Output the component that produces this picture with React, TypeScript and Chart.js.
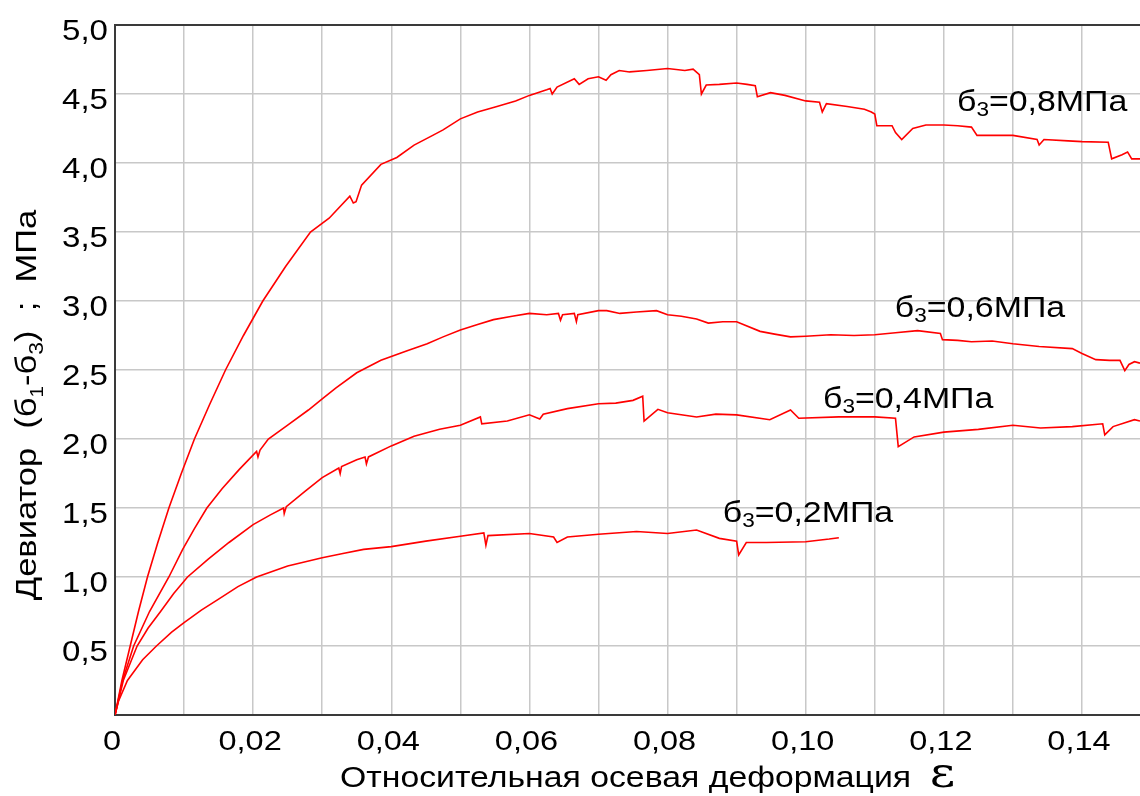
import React, { useEffect, useRef } from "react";
import { Chart, registerables } from "chart.js";

Chart.register(...registerables);

// ---------- data ----------
const STRAIN_08 = [0, 0.001, 0.0022, 0.0034, 0.0047, 0.0062, 0.0078, 0.0096, 0.0115, 0.0137, 0.016, 0.0186, 0.0214, 0.0247, 0.0283, 0.031, 0.034, 0.0345, 0.0349, 0.0357, 0.0385, 0.0408, 0.0433, 0.046, 0.0475, 0.05, 0.0525, 0.0553, 0.058, 0.06, 0.0625, 0.063, 0.0633, 0.064, 0.0665, 0.0672, 0.0685, 0.07, 0.0711, 0.0718, 0.073, 0.0745, 0.077, 0.08, 0.0825, 0.0837, 0.0846, 0.0849, 0.0856, 0.0875, 0.09, 0.0915, 0.0927, 0.093, 0.0949, 0.097, 0.1, 0.102, 0.1024, 0.103, 0.106, 0.1085, 0.1095, 0.11, 0.1103, 0.1125, 0.113, 0.1139, 0.1155, 0.1174, 0.12, 0.122, 0.124, 0.1248, 0.13, 0.1335, 0.1338, 0.1345, 0.138, 0.14, 0.1438, 0.1443, 0.1458, 0.1466, 0.1472, 0.1484];
const DEV_08 = [0, 0.25, 0.5, 0.75, 1.0, 1.25, 1.5, 1.75, 2.0, 2.25, 2.5, 2.75, 3.0, 3.25, 3.5, 3.6, 3.76, 3.71, 3.72, 3.84, 3.99, 4.04, 4.13, 4.2, 4.24, 4.32, 4.37, 4.41, 4.45, 4.49, 4.53, 4.54, 4.5, 4.55, 4.61, 4.57, 4.61, 4.625, 4.6, 4.64, 4.67, 4.66, 4.67, 4.685, 4.67, 4.68, 4.64, 4.5, 4.565, 4.57, 4.58, 4.57, 4.56, 4.48, 4.51, 4.49, 4.45, 4.44, 4.37, 4.43, 4.41, 4.39, 4.37, 4.355, 4.27, 4.27, 4.22, 4.17, 4.25, 4.275, 4.275, 4.27, 4.26, 4.2, 4.2, 4.17, 4.13, 4.17, 4.16, 4.155, 4.15, 4.03, 4.06, 4.08, 4.03, 4.03];

const STRAIN_06 = [0, 0.0011, 0.0027, 0.005, 0.0078, 0.0098, 0.0115, 0.0133, 0.0155, 0.018, 0.0205, 0.0207, 0.021, 0.0222, 0.025, 0.028, 0.03, 0.032, 0.035, 0.0385, 0.0423, 0.0452, 0.0475, 0.05, 0.0525, 0.0548, 0.0575, 0.06, 0.0625, 0.0642, 0.0645, 0.0648, 0.0665, 0.0668, 0.067, 0.07, 0.0712, 0.0731, 0.0755, 0.0784, 0.08, 0.082, 0.0842, 0.0859, 0.088, 0.09, 0.0934, 0.0955, 0.0978, 0.1, 0.1036, 0.107, 0.11, 0.113, 0.1162, 0.1195, 0.1198, 0.122, 0.124, 0.127, 0.13, 0.1338, 0.1386, 0.14, 0.142, 0.144, 0.1455, 0.1462, 0.1468, 0.1476, 0.1484];
const DEV_06 = [0, 0.25, 0.5, 0.75, 1.0, 1.2, 1.35, 1.5, 1.64, 1.78, 1.91, 1.87, 1.92, 2.0, 2.1, 2.21, 2.29, 2.37, 2.48, 2.57, 2.64, 2.69, 2.74, 2.79, 2.83, 2.865, 2.89, 2.91, 2.9, 2.91, 2.86, 2.9, 2.91, 2.85, 2.9, 2.93, 2.93, 2.91, 2.92, 2.93, 2.9, 2.89, 2.87, 2.84, 2.85, 2.85, 2.78, 2.76, 2.74, 2.745, 2.755, 2.75, 2.755, 2.77, 2.785, 2.765, 2.72, 2.715, 2.705, 2.71, 2.69, 2.67, 2.655, 2.62, 2.575, 2.57, 2.57, 2.495, 2.54, 2.56, 2.55];

const STRAIN_04 = [0, 0.0012, 0.0032, 0.0048, 0.0066, 0.0085, 0.0105, 0.0135, 0.0165, 0.02, 0.0225, 0.0244, 0.0245, 0.0248, 0.0275, 0.03, 0.0324, 0.0326, 0.0328, 0.035, 0.0362, 0.0364, 0.0367, 0.04, 0.0433, 0.047, 0.05, 0.0529, 0.0531, 0.0568, 0.06, 0.0615, 0.062, 0.0655, 0.07, 0.0725, 0.075, 0.0764, 0.0766, 0.0786, 0.08, 0.0842, 0.087, 0.09, 0.0948, 0.0978, 0.099, 0.1048, 0.11, 0.113, 0.1134, 0.1157, 0.12, 0.125, 0.13, 0.134, 0.1386, 0.143, 0.1433, 0.1445, 0.1476, 0.1484];
const DEV_04 = [0, 0.25, 0.5, 0.63, 0.75, 0.88, 1.0, 1.13, 1.25, 1.38, 1.45, 1.5, 1.46, 1.51, 1.62, 1.72, 1.79, 1.75, 1.8, 1.85, 1.87, 1.82, 1.87, 1.95, 2.02, 2.07, 2.1, 2.16, 2.11, 2.13, 2.175, 2.145, 2.18, 2.22, 2.255, 2.26, 2.28, 2.31, 2.13, 2.215, 2.19, 2.16, 2.18, 2.175, 2.14, 2.21, 2.15, 2.16, 2.16, 2.15, 1.945, 2.015, 2.05, 2.07, 2.1, 2.08, 2.09, 2.11, 2.03, 2.09, 2.14, 2.13];

const STRAIN_02 = [0, 0.0005, 0.0018, 0.004, 0.006, 0.0082, 0.01, 0.0125, 0.015, 0.0178, 0.0205, 0.025, 0.03, 0.033, 0.036, 0.04, 0.045, 0.05, 0.0534, 0.0537, 0.054, 0.06, 0.0635, 0.064, 0.0655, 0.07, 0.0755, 0.08, 0.0842, 0.0875, 0.09, 0.0903, 0.0914, 0.0943, 0.1, 0.1034, 0.1048];
const DEV_02 = [0, 0.1, 0.25, 0.4, 0.5, 0.6, 0.67, 0.76, 0.84, 0.93, 1.0, 1.08, 1.14, 1.17, 1.2, 1.22, 1.26, 1.295, 1.32, 1.23, 1.3, 1.315, 1.29, 1.25, 1.29, 1.31, 1.33, 1.315, 1.34, 1.28, 1.26, 1.16, 1.25, 1.25, 1.255, 1.275, 1.285];

const X_TICK_VALUES = [0, 0.02, 0.04, 0.06, 0.08, 0.1, 0.12, 0.14];
const X_TICK_LABELS = ["0", "0,02", "0,04", "0,06", "0,08", "0,10", "0,12", "0,14"];
const Y_TICK_VALUES = [0.5, 1, 1.5, 2, 2.5, 3, 3.5, 4, 4.5, 5];
const Y_TICK_LABELS = ["0,5", "1,0", "1,5", "2,0", "2,5", "3,0", "3,5", "4,0", "4,5", "5,0"];

const CURVE_LABELS = ["=0,8МПа", "=0,6МПа", "=0,4МПа", "=0,2МПа"];
// anchor (left, baseline) of each label, in data units
const LABEL_X = [0.1219, 0.1129, 0.1025, 0.088];
const LABEL_Y = [4.378, 2.885, 2.227, 1.401];

const X_TITLE = "Относительная осевая деформация";
const X_TITLE_SYMBOL = "ε";

// ---------- styling ----------
const SANS = '"Liberation Sans", Arial, sans-serif';
const SERIF = '"DejaVu Serif", "Liberation Serif", serif';
const RED = "#ff0000";
const GRID = "#c8c8c8";
const AXIS = "#3a3a3a";
const TEXT = "#000000";
const X_MAX = 0.1484;

type Run = { t: string; size: number; dy?: number; family?: string };

function drawRuns(ctx: CanvasRenderingContext2D, runs: Run[], x: number, y: number, align: "left" | "center" | "right", sx: number) {
  const widths = runs.map((r) => {
    ctx.font = `${r.size}px ${r.family ?? SANS}`;
    return ctx.measureText(r.t).width;
  });
  const total = widths.reduce((a, b) => a + b, 0) * sx;
  const start = align === "left" ? x : align === "center" ? x - total / 2 : x - total;
  ctx.save();
  ctx.translate(start, y);
  ctx.scale(sx, 1);
  ctx.textAlign = "left";
  ctx.textBaseline = "alphabetic";
  let cx = 0;
  runs.forEach((r, i) => {
    ctx.font = `${r.size}px ${r.family ?? SANS}`;
    ctx.fillText(r.t, cx, r.dy ?? 0);
    cx += widths[i];
  });
  ctx.restore();
}

const textPlugin = {
  id: "customText",
  afterDraw(chart: any) {
    const ctx: CanvasRenderingContext2D = chart.ctx;
    const xs = chart.scales.x;
    const ys = chart.scales.y;
    const area = chart.chartArea;
    ctx.save();
    // top border
    ctx.strokeStyle = AXIS;
    ctx.lineWidth = 2;
    ctx.beginPath();
    ctx.moveTo(area.left, area.top);
    ctx.lineTo(area.right, area.top);
    ctx.stroke();

    ctx.fillStyle = TEXT;
    // y tick labels
    Y_TICK_VALUES.forEach((v, i) => {
      const py = ys.getPixelForValue(v);
      drawRuns(ctx, [{ t: Y_TICK_LABELS[i], size: 29 }], area.left - 7, py + 14.5, "right", 1.14);
    });
    // x tick labels
    X_TICK_VALUES.forEach((v, i) => {
      const px = xs.getPixelForValue(v);
      drawRuns(ctx, [{ t: X_TICK_LABELS[i], size: 28 }], px - 3, area.bottom + 35, "center", 1.16);
    });
    // x title
    drawRuns(
      ctx,
      [
        { t: X_TITLE + "  ", size: 29 },
        { t: X_TITLE_SYMBOL, size: 42, family: SERIF },
      ],
      340,
      787,
      "left",
      1.165
    );
    // y title (rotated)
    ctx.save();
    ctx.translate(36, 405);
    ctx.rotate(-Math.PI / 2);
    drawRuns(
      ctx,
      [
        { t: "Девиатор  (б", size: 30 },
        { t: "1", size: 18, dy: 7 },
        { t: "-б", size: 30 },
        { t: "3", size: 20, dy: 7 },
        { t: ")  ;  МПа", size: 30 },
      ],
      0,
      0,
      "center",
      1.15
    );
    ctx.restore();
    // curve labels
    CURVE_LABELS.forEach((lab, i) => {
      const px = xs.getPixelForValue(LABEL_X[i]);
      const py = ys.getPixelForValue(LABEL_Y[i]);
      drawRuns(
        ctx,
        [
          { t: "б", size: 30 },
          { t: "3", size: 20, dy: 5 },
          { t: lab, size: 30 },
        ],
        px,
        py,
        "left",
        1.13
      );
    });
    ctx.restore();
  },
};

function toPoints(xs: number[], ys: number[]) {
  return xs.map((x, i) => ({ x, y: ys[i] }));
}

export default function App() {
  const ref = useRef<HTMLCanvasElement>(null);
  useEffect(() => {
    document.body.style.margin = "0";
    const ds = (xs: number[], ys: number[]) => ({
      data: toPoints(xs, ys),
      borderColor: RED,
      borderWidth: 1.6,
      pointRadius: 0,
      tension: 0,
      fill: false,
    });
    const chart = new Chart(ref.current as HTMLCanvasElement, {
      type: "line",
      data: {
        datasets: [
          ds(STRAIN_08, DEV_08),
          ds(STRAIN_06, DEV_06),
          ds(STRAIN_04, DEV_04),
          ds(STRAIN_02, DEV_02),
        ],
      },
      options: {
        responsive: false,
        animation: false,
        events: [],
        layout: { padding: { top: 25, left: 0, right: 0, bottom: 0 } },
        plugins: { legend: { display: false }, tooltip: { enabled: false } },
        scales: {
          x: {
            type: "linear",
            min: 0,
            max: X_MAX,
            ticks: { display: false, stepSize: 0.01, includeBounds: false },
            grid: { color: GRID, lineWidth: 1.5, drawTicks: false },
            border: { color: AXIS, width: 2 },
            afterFit: (s: any) => {
              s.height = 81;
            },
          },
          y: {
            type: "linear",
            min: 0,
            max: 5,
            ticks: { display: false, stepSize: 0.5 },
            grid: { color: GRID, lineWidth: 1.5, drawTicks: false },
            border: { color: AXIS, width: 2 },
            afterFit: (s: any) => {
              s.width = 115;
            },
          },
        },
      } as any,
      plugins: [textPlugin],
    });
    return () => chart.destroy();
  }, []);
  return (
    <div style={{ width: 1140, height: 796 }}>
      <canvas ref={ref} width={1140} height={796} style={{ display: "block" }} />
    </div>
  );
}
